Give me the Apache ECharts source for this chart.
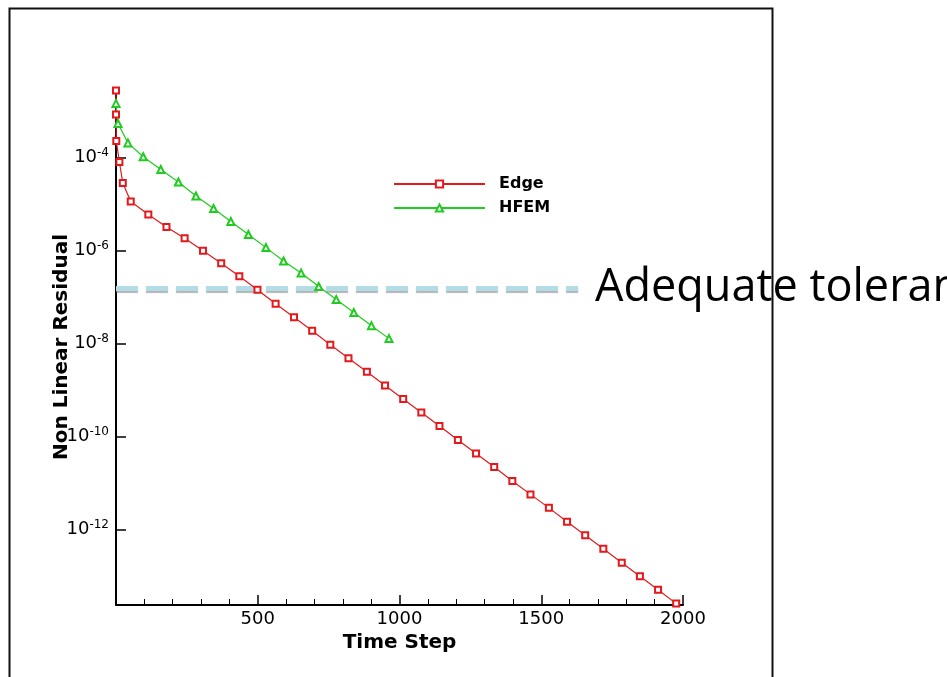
<!DOCTYPE html>
<html>
<head>
<meta charset="utf-8">
<script src="https://cdn.jsdelivr.net/npm/echarts@6/dist/echarts.min.js"></script>
<style>
html,body{margin:0;padding:0;background:#fff;}
#chart{width:947px;height:677px;}
</style>
</head>
<body>
<div id="chart"></div>
<script>
// ---- data ----
const edgeSteps = [0, 0, 1, 12, 24, 52, 114, 178, 242, 307, 371, 435, 499, 563, 628, 692, 756, 820, 885, 949, 1013, 1077, 1141, 1206, 1270, 1334, 1398, 1462, 1527, 1591, 1655, 1719, 1784, 1848, 1912, 1976];
const edgeResidual = [2.82e-3, 8.51e-4, 2.29e-4, 8.13e-5, 2.88e-5, 1.15e-5, 6.03e-6, 3.24e-6, 1.86e-6, 1.0e-6, 5.37e-7, 2.82e-7, 1.45e-7, 7.24e-8, 3.72e-8, 1.91e-8, 9.55e-9, 4.90e-9, 2.51e-9, 1.26e-9, 6.46e-10, 3.31e-10, 1.70e-10, 8.51e-11, 4.37e-11, 2.24e-11, 1.12e-11, 5.75e-12, 2.95e-12, 1.48e-12, 7.59e-13, 3.89e-13, 1.95e-13, 1.0e-13, 5.13e-14, 2.57e-14];
const hfemSteps = [0, 7, 42, 96, 158, 220, 282, 344, 405, 467, 529, 591, 653, 715, 777, 839, 901, 963];
const hfemResidual = [1.48e-3, 5.50e-4, 2.09e-4, 1.05e-4, 5.62e-5, 3.02e-5, 1.51e-5, 8.13e-6, 4.27e-6, 2.24e-6, 1.17e-6, 6.03e-7, 3.31e-7, 1.70e-7, 8.91e-8, 4.68e-8, 2.45e-8, 1.29e-8];
const toleranceSteps = [0, 1630];
const toleranceValue = [1.55e-7, 1.55e-7];
const yTickValues = [1e-12, 1e-10, 1e-8, 1e-6, 1e-4];
const xLabels = ["500", "1000", "1500", "2000"];
const seriesNames = ["Edge", "HFEM"];
const toleranceLabel = "Adequate tolerance";
const xName = "Time Step";
const yName = "Non Linear Residual";

const pair = (xs, ys) => xs.map((x, i) => [x, ys[i]]);
const FONT = '"DejaVu Sans", "Liberation Sans", Arial, sans-serif';

const chart = echarts.init(document.getElementById('chart'), null, {renderer: 'canvas'});
chart.setOption({
  backgroundColor: '#fff',
  animation: false,
  grid: {left: 116, right: 264, top: 89, bottom: 72, containLabel: false},
  legend: {
    data: seriesNames,
    orient: 'vertical',
    left: 393, top: 176, padding: 0,
    itemWidth: 91, itemHeight: 9, itemGap: 8,
    textStyle: {fontFamily: FONT, fontWeight: 'bold', fontSize: 16, color: '#000', padding: [0,0,0,9]},
    selectedMode: false
  },
  xAxis: {
    type: 'value', min: 0, max: 2000, interval: 500,
    name: xName, nameLocation: 'middle', nameGap: 28, nameMoveOverlap: false,
    nameTextStyle: {fontFamily: FONT, fontWeight: 'bold', fontSize: 20, color: '#000'},
    axisLine: {show: true, lineStyle: {color: '#000', width: 2}},
    axisTick: {show: true, inside: true, length: 10, lineStyle: {color: '#000', width: 1.5}},
    minorTick: {show: true, splitNumber: 5, length: 6, lineStyle: {color: '#000', width: 1}},
    splitLine: {show: false},
    minorSplitLine: {show: false},
    axisLabel: {
      fontFamily: FONT, fontSize: 18, color: '#000', margin: 5,
      formatter: v => { const s = String(v); return xLabels.indexOf(s) >= 0 ? s : ''; }
    }
  },
  yAxis: {
    type: 'log', logBase: 10, min: 2.40e-14, max: 3.02e-3,
    name: yName, nameLocation: 'middle', nameGap: 44, nameRotate: 90, nameMoveOverlap: false,
    nameTextStyle: {fontFamily: FONT, fontWeight: 'bold', fontSize: 20, color: '#000'},
    axisLine: {show: true, lineStyle: {color: '#000', width: 2}},
    axisTick: {show: true, inside: true, length: 10, customValues: yTickValues, lineStyle: {color: '#000', width: 1.5}},
    minorTick: {show: false},
    splitLine: {show: false},
    axisLabel: {
      customValues: yTickValues,
      margin: 7,
      formatter: v => {
        const e = Math.round(Math.log10(v));
        return '{b|10}{s|' + e + '}';
      },
      rich: {
        b: {fontFamily: FONT, fontSize: 18, color: '#000', lineHeight: 22},
        s: {fontFamily: FONT, fontSize: 12, color: '#000', lineHeight: 12, verticalAlign: 'top'}
      }
    }
  },
  series: [
    {
      name: 'tolerance', type: 'line', data: pair(toleranceSteps, toleranceValue),
      symbol: 'none', z: 1, silent: true,
      lineStyle: {color: '#b2dde6', width: 5, type: [22, 8], shadowColor: 'rgba(120,120,120,0.55)', shadowOffsetY: 2, shadowBlur: 1}
    },
    {
      name: seriesNames[0], type: 'line', data: pair(edgeSteps, edgeResidual),
      symbol: 'emptyRect', symbolSize: 6, z: 3,
      color: '#e3191c',
      lineStyle: {color: '#e3191c', width: 1.2},
      itemStyle: {color: '#e3191c', borderColor: '#e3191c', borderWidth: 1.2}
    },
    {
      name: seriesNames[1], type: 'line', data: pair(hfemSteps, hfemResidual),
      symbol: 'emptyTriangle', symbolSize: 7, z: 3,
      color: '#1fcc1f',
      lineStyle: {color: '#1fcc1f', width: 1.2},
      itemStyle: {color: '#1fcc1f', borderColor: '#1fcc1f', borderWidth: 1.2}
    }
  ],
  graphic: [
    {
      type: 'text', x: 595, y: 288, z: 10,
      style: {text: toleranceLabel, font: '45px "Open Sans", Lato, sans-serif', fill: '#000', verticalAlign: 'middle', align: 'left'}
    },
    {
      type: 'rect', z: 20, silent: true,
      shape: {x: 9.5, y: 8.5, width: 763, height: 720},
      style: {fill: 'none', stroke: '#111', lineWidth: 2}
    }
  ]
});
</script>
</body>
</html>
